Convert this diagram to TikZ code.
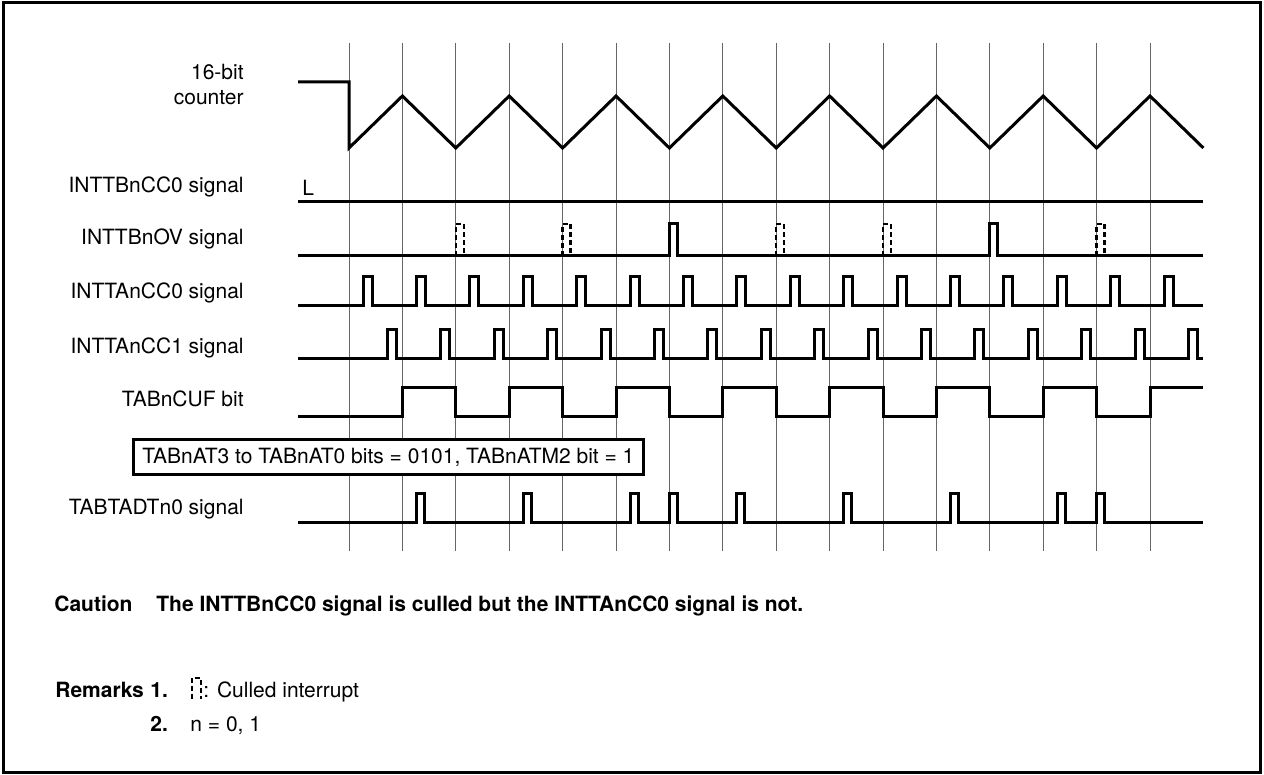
\documentclass[tikz,border=0pt]{standalone}
\usepackage{fontspec}
\setmainfont{TeX Gyre Heros}
\usetikzlibrary{positioning}

\tikzset{
  gridline/.style={black!60,line width=0.5pt},
  wave/.style={line width=1.5pt},
  culled/.style={line width=1.2pt,dash pattern=on 2.5pt off 1.5pt},
  siglabel/.style={anchor=base east,inner sep=0pt},
  note/.style={anchor=base west,inner sep=0pt},
  boldnote/.style={note,font=\fontsize{10.5}{12.6}\selectfont\bfseries},
}
\newcommand{\xk}[1]{349+(#1)*53.4}

\begin{document}
\begin{tikzpicture}[x=0.5pt,y=-0.5pt,font=\fontsize{10.5}{12.6}\selectfont]
\useasboundingbox (0,0) rectangle (1264,775);
\draw[line width=1.5pt] (3,3) rectangle (1260,772);

% timing grid
\foreach \k in {0,...,15}
  \draw[gridline] ({\xk{\k}},43) -- ({\xk{\k}},551);

% signal names
\node[siglabel,align=right] (cnt) at (244,105) {16-bit\\counter};
\node[siglabel] (tbcc0) at (244,193) {INTTBnCC0 signal};
\node[siglabel] (tbov) at (244,245) {INTTBnOV signal};
\node[siglabel] (tacc0) at (244,299) {INTTAnCC0 signal};
\node[siglabel] (tacc1) at (244,354) {INTTAnCC1 signal};
\node[siglabel] (cuf) at (244,407) {TABnCUF bit};
\node[siglabel] (tadt) at (244,514) {TABTADTn0 signal};

% 16-bit counter
\draw[wave] (298,82) -- (349,82) -- (349,148)
  \foreach \k in {0,...,7} { -- ({\xk{2*\k+1}},96) -- ({\xk{2*\k+2}},148) };

% INTTBnCC0
\node[note] (low) at (302,196) {L};
\draw[wave] (298,202) -- ({\xk{16}},202);

% INTTBnOV
\draw[wave] (298,256) \foreach \k in {6,12}
  { -- ({\xk{\k}},256) -- ++(0,-32) -- ++(8,0) -- ++(0,32) } -- ({\xk{16}},256);
\foreach \k in {2,4,8,10,14}
  \draw[culled] ({\xk{\k}},256) -- ++(0,-32) -- ++(8,0) -- ++(0,32);

% INTTAnCC0
\draw[wave] (298,306) \foreach \k in {0,...,15}
  { -- ({\xk{\k}+14},306) -- ++(0,-29) -- ++(9,0) -- ++(0,29) } -- ({\xk{16}},306);

% INTTAnCC1
\draw[wave] (298,359) \foreach \k in {0,...,15}
  { -- ({\xk{\k}+38.5},359) -- ++(0,-29) -- ++(9,0) -- ++(0,29) } -- ({\xk{16}},359);

% TABnCUF
\draw[wave] (298,416) \foreach \k in {1,3,...,13}
  { -- ({\xk{\k}},416) -- ++(0,-29) -- ({\xk{\k+1}},387) -- ++(0,29) }
  -- ({\xk{15}},416) -- ++(0,-29) -- ({\xk{16}},387);

% setting
\node[draw,line width=1.3pt,anchor=west,minimum height=17.5pt,inner xsep=4.5pt,fill=white]
  (mode) at (132,457) {TABnAT3 to TABnAT0 bits = 0101, TABnATM2 bit = 1};

% TABTADTn0
\draw[wave] (298,522) \foreach \x in {1,3,5,6,7,9,11,13,14}
  { -- ({\xk{\x}+(\x==6||\x==14 ? 0 : 14)},522) -- ++(0,-29) -- ++(8,0) -- ++(0,29) }
  -- ({\xk{16}},522);

% notes
\node[boldnote] (caution) at (54,611) {Caution};
\node[boldnote,base right=11.5pt of caution] (causetext)
  {The INTTBnCC0 signal is culled but the INTTAnCC0 signal is not.};
\node[boldnote] (remarks) at (55,697) {Remarks};
\node[boldnote] (r1) at (150,697) {1.};
\node[boldnote] (r2) at (150,731) {2.};
\draw[culled] (192,699) -- ++(0,-21) -- ++(9,0) -- ++(0,21);
\node[note] (r1text) at (203,697) {: Culled interrupt};
\node[note] (r2text) at (190,731) {n = 0, 1};
\end{tikzpicture}
\end{document}
